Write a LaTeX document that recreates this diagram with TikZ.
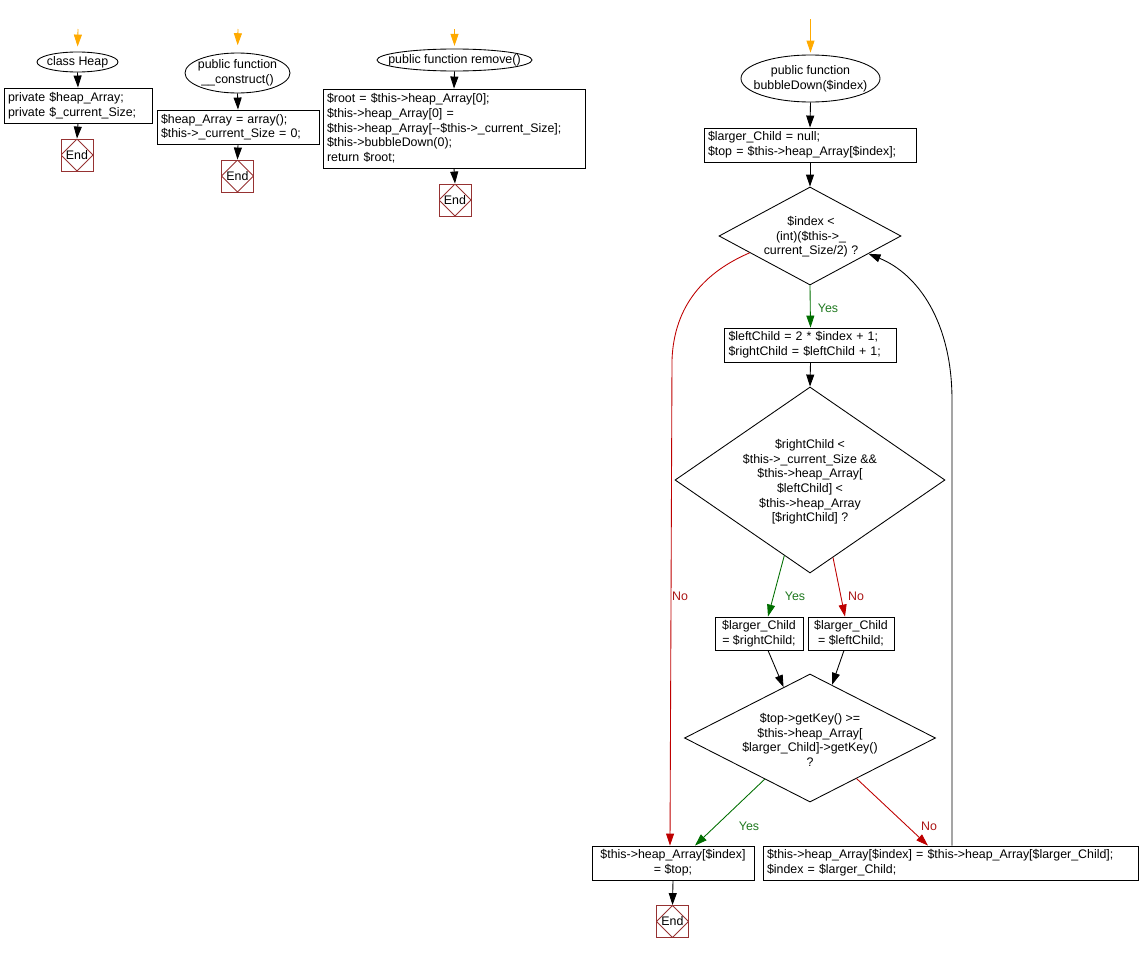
\documentclass[tikz,border=0pt]{standalone}
\usepackage{fontspec}
\setmainfont{Liberation Sans}
\usetikzlibrary{shapes.geometric,arrows.meta,calc}
\definecolor{orng}{RGB}{255,170,0}
\definecolor{grn}{RGB}{0,110,0}
\definecolor{rd}{RGB}{190,0,0}
\definecolor{endred}{RGB}{150,50,50}
\definecolor{lblgrn}{RGB}{30,120,30}
\definecolor{lblred}{RGB}{170,20,20}
\begin{document}
\begin{tikzpicture}[x=0.75pt,y=-0.75pt,
  font=\fontsize{9.3}{11}\selectfont, line width=0.65pt,
  box/.style={draw, inner xsep=3pt, inner ysep=0pt, align=left},
  cbox/.style={draw, inner xsep=2pt, inner ysep=0pt, align=center},
  oval/.style={draw, ellipse, inner sep=0pt},
  dia/.style={draw, diamond, inner sep=0pt},
  txt/.style={inner sep=0pt, align=center},
  endnode/.style={draw=endred, minimum size=24pt, inner sep=0pt,
    path picture={\draw[endred] (path picture bounding box.north) -- (path picture bounding box.east) -- (path picture bounding box.south) -- (path picture bounding box.west) -- cycle;}},
  arr/.style={-{Triangle[length=9pt,width=6pt]}},
  oarr/.style={orng, -{Triangle[length=9pt,width=6pt]}},
  yesarr/.style={grn, -{Triangle[length=9pt,width=6pt]}},
  noarr/.style={rd, -{Triangle[length=9pt,width=6pt]}},
  yeslbl/.style={text=lblgrn, inner sep=0pt},
  nolbl/.style={text=lblred, inner sep=0pt}
]
\useasboundingbox (0,0) rectangle (1140,953);

% ---------- column 1 ----------
\coordinate (o1) at (78,29);
\node[oval, minimum width=60.75pt, minimum height=15pt] (s1) at (77.5,62) {};
\node[txt] (s1t) at (s1) {class Heap};
\node[box, text width=105pt, minimum height=26.25pt] (b1) at (78,105.5)
  {private \$heap\_Array;\\private \$\_current\_Size;};
\node[endnode] (e1) at (77,155) {End};
\draw[oarr, shorten >=3.75pt] (o1) -- (s1.north);
\draw[arr] (s1.south) -- (b1.north);
\draw[arr] (b1.south) -- (e1.north);

% ---------- column 2 ----------
\coordinate (o2) at (238,29);
\node[oval, minimum width=78.75pt, minimum height=30pt] (s2) at (237.5,73) {};
\node[txt] (s2t) at (s2) {public function\\\_\_construct()};
\node[box, text width=115.5pt, minimum height=25.5pt] (b2) at (238,127)
  {\$heap\_Array = array();\\\$this->\_current\_Size = 0;};
\node[endnode] (e2) at (237.5,176) {End};
\draw[oarr, shorten >=5.5pt] (o2) -- (s2.north);
\draw[arr] (s2.south) -- (b2.north);
\draw[arr] (b2.south) -- (e2.north);

% ---------- column 3 ----------
\coordinate (o3) at (454.5,29);
\node[oval, minimum width=116.25pt, minimum height=16.5pt] (s3) at (454.5,60) {};
\node[txt] (s3t) at (s3) {public function remove()};
\node[box, text width=190.5pt, minimum height=59.25pt] (b3) at (454,128.5)
  {\$root = \$this->heap\_Array[0];\\\$this->heap\_Array[0] =\\\$this->heap\_Array[-{}-\$this->\_current\_Size];\\\$this->bubbleDown(0);\\return \$root;};
\node[endnode] (e3) at (455,200) {End};
\draw[oarr, shorten >=2pt] (o3) -- (s3.north);
\draw[arr] (s3.south) -- (b3.north);
\draw[arr] (b3.south) -- (e3.north);

% ---------- column 4 ----------
\coordinate (o4) at (810.5,19);
\node[oval, minimum width=104.25pt, minimum height=35.25pt] (s4) at (810.5,78.5) {};
\node[txt] (s4t) at (s4) {public function\\bubbleDown(\$index)};
\node[box, text width=153pt, minimum height=25.5pt] (b4) at (810,145)
  {\$larger\_Child = null;\\\$top = \$this->heap\_Array[\$index];};
\node[dia, minimum width=136.5pt, minimum height=73.5pt] (d1) at (810,236) {};
\node[txt] (d1t) at (811,237) {\$index <\\(int)(\$this->\_\\current\_Size/2) ?};
\node[box, text width=123pt, minimum height=25.5pt] (b5) at (810.5,345)
  {\$leftChild = 2 * \$index + 1;\\\$rightChild = \$leftChild + 1;};
\node[dia, minimum width=202.5pt, minimum height=139.5pt] (d2) at (810,480) {};
\node[txt] (d2t) at (810,482) {\$rightChild <\\\$this->\_current\_Size \&\&\\\$this->heap\_Array[\\\$leftChild] <\\\$this->heap\_Array\\{[}\$rightChild] ?};
\node[cbox, minimum width=66pt, minimum height=24.75pt] (b6) at (759,633.5)
  {\$larger\_Child\\= \$rightChild;};
\node[cbox, minimum width=64.5pt, minimum height=24.75pt] (b7) at (851,633.5)
  {\$larger\_Child\\= \$leftChild;};
\node[dia, minimum width=188.25pt, minimum height=96pt] (d3) at (810,738) {};
\node[txt] (d3t) at (810,740) {\$top->getKey() >=\\\$this->heap\_Array[\\\$larger\_Child]->getKey()\\?};
\node[cbox, minimum width=121.5pt, minimum height=25.5pt] (b8) at (673,863)
  {\$this->heap\_Array[\$index]\\= \$top;};
\node[box, text width=275.25pt, minimum height=25.5pt] (b9) at (950.5,863)
  {\$this->heap\_Array[\$index] = \$this->heap\_Array[\$larger\_Child];\\\$index = \$larger\_Child;};
\node[endnode] (e4) at (672.5,921.5) {End};

\draw[oarr, shorten >=1.5pt] (o4) -- (s4.north);
\draw[arr] (s4.south) -- (b4.north);
\draw[arr] (b4.south) -- (d1.north);
\draw[yesarr] (d1.south) -- (b5.north);
\draw[arr] (b5.south) -- (d2.north);
\draw[yesarr] ($(d2.south)!0.19!(d2.west)$) -- ([xshift=6.75pt]b6.north);
\draw[noarr] ($(d2.south)!0.17!(d2.east)$) -- ([xshift=-4.5pt]b7.north);
\draw[arr] ([xshift=6.75pt]b6.south) -- ($(d3.north)!0.21!(d3.west)$);
\draw[arr] ([xshift=-5.25pt]b7.south) -- ($(d3.north)!0.175!(d3.east)$);
\draw[yesarr] ($(d3.south)!0.36!(d3.west)$) -- ([xshift=16.5pt]b8.north);
\draw[noarr] ($(d3.south)!0.37!(d3.east)$) -- ([xshift=-16.9pt]b9.north);
\draw[noarr] ($(d1.south)!0.66!(d1.west)$) .. controls (705,272) and (674,305) .. (672,360) -- ([xshift=-2.25pt]b8.north);
\draw[arr] ([xshift=1.125pt]b9.north) -- (952,400) .. controls (952,322) and (918,274) .. ($(d1.south)!0.64!(d1.east)$);
\draw[arr] (b8.south) -- (e4.north);

% labels
\node[yeslbl] (l1) at (828,308) {Yes};
\node[yeslbl] (l2) at (795,596) {Yes};
\node[nolbl] (l3) at (856,596) {No};
\node[nolbl] (l4) at (680,596) {No};
\node[yeslbl] (l5) at (749,826) {Yes};
\node[nolbl] (l6) at (929,826) {No};
\end{tikzpicture}
\end{document}
